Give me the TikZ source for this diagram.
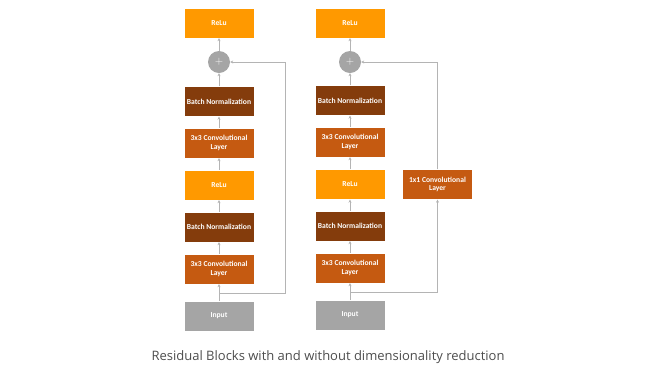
\documentclass[tikz,border=0pt]{standalone}
\usepackage{fontspec}
\setmainfont{Open Sans}
\newfontfamily\boxfont{Carlito}
\usetikzlibrary{arrows.meta}
\definecolor{relu}{HTML}{FF9900}
\definecolor{conv}{HTML}{C55A11}
\definecolor{bn}{HTML}{843C0C}
\definecolor{inp}{HTML}{A5A5A5}
\definecolor{wire}{HTML}{B4B4B4}
\definecolor{cap}{HTML}{4D4D4D}
\begin{document}
\begin{tikzpicture}[x=1pt,y=-1pt,
  blk/.style={minimum width=70pt,minimum height=30pt,inner sep=0pt,align=center,
    text=white,font=\boxfont\bfseries\fontsize{7.6}{8.8}\selectfont,draw=white,line width=0.3pt},
  relubox/.style={blk,fill=relu},
  convbox/.style={blk,fill=conv},
  bnbox/.style={blk,fill=bn},
  inbox/.style={blk,fill=inp},
  plus/.style={circle,fill=inp,minimum size=22pt,inner sep=0pt,text=white,font=\sffamily\fontsize{11}{12}\selectfont},
  link/.style={draw=wire,line width=0.7pt,-{Stealth[length=3pt,width=3pt]}},
  wireline/.style={draw=wire,line width=0.9pt}]
\useasboundingbox (0,0) rectangle (648,376);
% left block
\node[relubox] (lr2) at (219,23) {ReLu};
\node[plus] (lp) at (219,62) {+};
\node[bnbox] (lb2) at (219,101.5) {Batch Normalization};
\node[convbox] (lc2) at (219,143) {3x3 Convolutional\\Layer};
\node[relubox] (lr1) at (219,185) {ReLu};
\node[bnbox] (lb1) at (219,227) {Batch Normalization};
\node[convbox] (lc1) at (219,269) {3x3 Convolutional\\Layer};
\node[inbox] (li) at (219,316) {Input};
\draw[link] (li) -- (lc1);
\draw[link] (lc1) -- (lb1);
\draw[link] (lb1) -- (lr1);
\draw[link] (lr1) -- (lc2);
\draw[link] (lc2) -- (lb2);
\draw[link] (lb2) -- (lp);
\draw[link] (lp) -- (lr2);
\coordinate (ls) at (219,293);
\coordinate (lsa) at (285,293);
\coordinate (lsb) at (285,62);
\draw[wireline,-{Stealth[length=3pt,width=3pt]}] (ls) -- (lsa) -- (lsb) -- (lp);
% right block
\node[relubox] (rr2) at (350,23) {ReLu};
\node[plus] (rp) at (350,62) {+};
\node[bnbox] (rb2) at (350,100.5) {Batch Normalization};
\node[convbox] (rc2) at (350,142) {3x3 Convolutional\\Layer};
\node[relubox] (rr1) at (350,184.5) {ReLu};
\node[bnbox] (rb1) at (350,226) {Batch Normalization};
\node[convbox] (rc1) at (350,268) {3x3 Convolutional\\Layer};
\node[inbox] (ri) at (350,315) {Input};
\node[convbox] (rk) at (437.5,184.5) {1x1 Convolutional\\Layer};
\draw[link] (ri) -- (rc1);
\draw[link] (rc1) -- (rb1);
\draw[link] (rb1) -- (rr1);
\draw[link] (rr1) -- (rc2);
\draw[link] (rc2) -- (rb2);
\draw[link] (rb2) -- (rp);
\draw[link] (rp) -- (rr2);
\coordinate (rs) at (350,292);
\coordinate (rsa) at (437.5,292);
\coordinate (rsb) at (437.5,62);
\draw[wireline,-{Stealth[length=3pt,width=3pt]}] (rs) -- (rsa) -- (rk.south);
\draw[wireline,-{Stealth[length=3pt,width=3pt]}] (rk.north) -- (rsb) -- (rp);
% caption
\node[text=cap,font=\fontsize{13}{15}\selectfont,inner sep=0pt] (caption) at (328,357) {Residual Blocks with and without dimensionality reduction};
\end{tikzpicture}
\end{document}
